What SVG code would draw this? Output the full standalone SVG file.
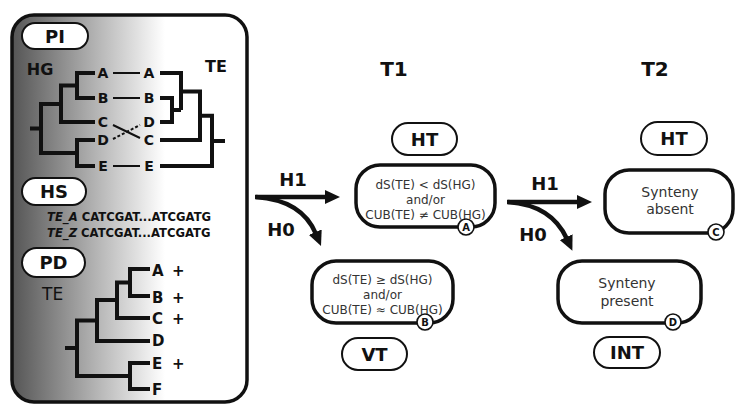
<svg xmlns="http://www.w3.org/2000/svg" width="738" height="405" viewBox="0 0 738 405">
<defs>
<linearGradient id="panelGrad" gradientUnits="userSpaceOnUse" x1="12" y1="0" x2="165" y2="0">
<stop offset="0" stop-color="#555555"/>
<stop offset="0.55" stop-color="#b4b4b4"/>
<stop offset="1" stop-color="#ffffff"/>
</linearGradient>
<marker id="ah" markerWidth="16" markerHeight="14" refX="2" refY="7" orient="auto" markerUnits="userSpaceOnUse">
<path d="M0,0 L15,7 L0,14 z" fill="#111"/>
</marker>
<style>
.lbl{font-family:"DejaVu Sans",sans-serif;font-weight:bold;fill:#111;text-anchor:middle}
.box{fill:#fff;stroke:#111;stroke-width:3.5}
.pill{fill:#fff;stroke:#111;stroke-width:2}
.btxt{font-family:"DejaVu Sans",sans-serif;font-size:12px;fill:#333;text-anchor:middle}
.stxt{font-family:"DejaVu Sans",sans-serif;font-size:14px;fill:#333;text-anchor:middle}
.tree{fill:none;stroke:#111;stroke-width:4;stroke-linejoin:miter;stroke-linecap:butt}
.leaf{font-family:"DejaVu Sans",sans-serif;font-weight:bold;font-size:14px;fill:#111;text-anchor:middle}
.pleaf{font-family:"DejaVu Sans",sans-serif;font-weight:bold;font-size:15px;fill:#111}
.circ{fill:#fff;stroke:#111;stroke-width:1.6}
.ctxt{font-family:"DejaVu Sans",sans-serif;font-weight:bold;font-size:10px;fill:#111;text-anchor:middle}
.arr{fill:none;stroke:#111;stroke-width:4.5}
.seq{font-family:"DejaVu Sans",sans-serif;font-weight:bold;font-size:11.6px;fill:#111}
</style>
</defs>
<rect width="738" height="405" fill="#fff"/>

<g id="panel">
<rect x="12" y="15" width="235" height="387" rx="22" fill="url(#panelGrad)" stroke="#111" stroke-width="3.5"/>
<g id="PI">
<rect class="pill" x="22" y="23" width="66" height="26" rx="13"/>
<text class="lbl" x="55" y="42.5" font-size="18">PI</text>
</g>
<text class="lbl" x="40" y="75" font-size="16">HG</text>
<text class="lbl" x="216" y="72" font-size="16">TE</text>
<g id="hgTree">
<path class="tree" d="M95,73 H77 V98 H95 M77,85.5 H61 V122 H95 M95,140 H77 V166 H95 M61,104 H41 V153 H77 M30,128.5 H41"/>
</g>
<g id="teTree">
<path class="tree" d="M160,73 H181 V110 M160,98 H172 V122 H160 M172,110 H181 M181,91.5 H200 V140 H160 M200,115.75 H212 V166 H160 M212,141 H225"/>
</g>
<g id="leaves">
<text class="leaf" x="103" y="78">A</text>
<text class="leaf" x="103" y="103">B</text>
<text class="leaf" x="103" y="127">C</text>
<text class="leaf" x="103" y="145">D</text>
<text class="leaf" x="103" y="171">E</text>
<text class="leaf" x="149" y="78">A</text>
<text class="leaf" x="149" y="103">B</text>
<text class="leaf" x="149" y="127">D</text>
<text class="leaf" x="149" y="145">C</text>
<text class="leaf" x="149" y="171">E</text>
<path d="M113,73 H140 M113,98 H140 M113,166 H140 M113,125 L140,138" stroke="#111" stroke-width="2" fill="none"/>
<path d="M113,139 L140,125" stroke="#111" stroke-width="2" stroke-dasharray="3,2" fill="none"/>
</g>
<g id="HS">
<rect class="pill" x="22" y="178" width="64" height="27" rx="13.5"/>
<text class="lbl" x="54" y="198" font-size="18">HS</text>
</g>
<text class="seq" x="47" y="221"><tspan font-style="italic">TE_A</tspan> CATCGAT...ATCGATG</text>
<text class="seq" x="47" y="237"><tspan font-style="italic">TE_Z</tspan> CATCGAT...ATCGATG</text>
<g id="PD">
<rect class="pill" x="22" y="248" width="63" height="29" rx="14.5"/>
<text class="lbl" x="53.5" y="269" font-size="18">PD</text>
</g>
<text x="42" y="300" font-family="DejaVu Sans, sans-serif" font-size="17" fill="#111">TE</text>
<g id="pdTree">
<path class="tree" d="M150,269 H130 V296 H150 M130,282.5 H117 V318 H150 M117,300 H97 V341 H150 M97,320.5 H77 V376 H130 M150,363 H130 V389 H150 M65,348 H77"/>
<text class="pleaf" x="152" y="276">A</text>
<text class="pleaf" x="152" y="303">B</text>
<text class="pleaf" x="152" y="324">C</text>
<text class="pleaf" x="152" y="346">D</text>
<text class="pleaf" x="152" y="369">E</text>
<text class="pleaf" x="152" y="395">F</text>
<text class="pleaf" x="172" y="276">+</text>
<text class="pleaf" x="172" y="303">+</text>
<text class="pleaf" x="172" y="324">+</text>
<text class="pleaf" x="172" y="369">+</text>
</g>
</g>

<text class="lbl" x="394" y="76" font-size="20">T1</text>
<text class="lbl" x="655" y="76" font-size="20">T2</text>

<g id="HT1">
<rect class="pill" x="392" y="123" width="65" height="32" rx="16"/>
<text class="lbl" x="424.5" y="145.5" font-size="18">HT</text>
</g>
<g id="boxA">
<rect class="box" x="356" y="165" width="139" height="62" rx="24"/>
<text class="btxt" x="425.5" y="189">dS(TE) &lt; dS(HG)</text>
<text class="btxt" x="425.5" y="204">and/or</text>
<text class="btxt" x="425.5" y="219">CUB(TE) ≠ CUB(HG)</text>
<circle class="circ" cx="466" cy="227" r="8"/>
<text class="ctxt" x="466" y="230.5">A</text>
</g>
<g id="boxB">
<rect class="box" x="312" y="261" width="141" height="62" rx="24"/>
<text class="btxt" x="382.5" y="284">dS(TE) ≥ dS(HG)</text>
<text class="btxt" x="382.5" y="299">and/or</text>
<text class="btxt" x="382.5" y="314">CUB(TE) ≈ CUB(HG)</text>
<circle class="circ" cx="425" cy="322" r="8"/>
<text class="ctxt" x="425" y="325.5">B</text>
</g>
<g id="VT">
<rect class="pill" x="342" y="338" width="65" height="32" rx="16"/>
<text class="lbl" x="374.5" y="360.5" font-size="18">VT</text>
</g>
<g id="HT2">
<rect class="pill" x="641" y="122" width="66" height="33" rx="16.5"/>
<text class="lbl" x="674" y="145" font-size="18">HT</text>
</g>
<g id="boxC">
<rect class="box" x="605" y="170" width="128" height="63" rx="24"/>
<text class="stxt" x="670" y="197">Synteny</text>
<text class="stxt" x="670" y="214">absent</text>
<circle class="circ" cx="716" cy="232" r="8"/>
<text class="ctxt" x="716" y="235.5">C</text>
</g>
<g id="boxD">
<rect class="box" x="558" y="261" width="143" height="62" rx="24"/>
<text class="stxt" x="627" y="288">Synteny</text>
<text class="stxt" x="627" y="306">present</text>
<circle class="circ" cx="673" cy="322" r="8"/>
<text class="ctxt" x="673" y="325.5">D</text>
</g>
<g id="INT">
<rect class="pill" x="594" y="337" width="66" height="31" rx="15.5"/>
<text class="lbl" x="627" y="359" font-size="18">INT</text>
</g>

<g id="connectors">
<path class="arr" d="M255,197 H327" marker-end="url(#ah)"/>
<path class="arr" d="M256,197 C285,199 306,210 316,234" marker-end="url(#ah)"/>
<path class="arr" d="M507,202 H579" marker-end="url(#ah)"/>
<path class="arr" d="M508,202 C537,204 557,217 567,239" marker-end="url(#ah)"/>
<text class="lbl" x="293" y="186" font-size="18">H1</text>
<text class="lbl" x="281" y="236" font-size="18">H0</text>
<text class="lbl" x="545" y="190" font-size="18">H1</text>
<text class="lbl" x="533" y="241" font-size="18">H0</text>
</g>
</svg>
